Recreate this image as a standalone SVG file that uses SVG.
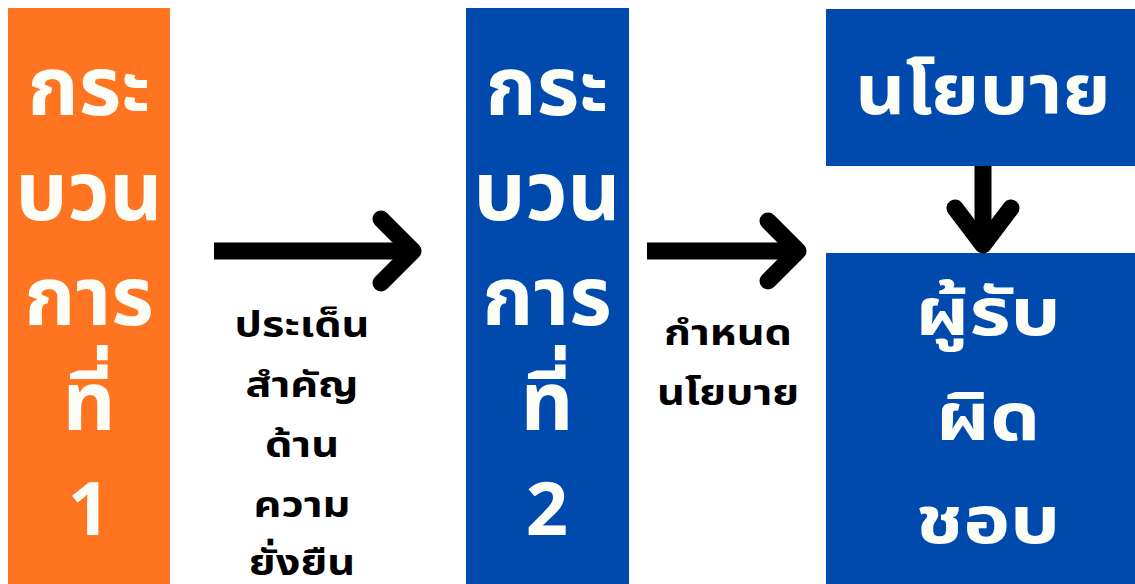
<svg xmlns="http://www.w3.org/2000/svg" width="1135" height="584" viewBox="0 0 1135 584">
<style>
.big{font-family:"Noto Sans","Noto Sans Thai","Liberation Sans",sans-serif;font-weight:bold;font-size:66px;fill:#fbfdf6;text-anchor:middle}
.col{font-family:"Noto Sans","Noto Sans Thai","Liberation Sans",sans-serif;font-weight:bold;font-size:82px;fill:#fbfdf6;text-anchor:middle}
.num{font-size:74px}
.lbl{font-family:"Noto Sans","Noto Sans Thai","Liberation Sans",sans-serif;font-weight:bold;font-size:36px;fill:#000;text-anchor:middle}
.arr{fill:none;stroke:#000;stroke-width:17;stroke-linecap:round;stroke-linejoin:round}
.shaft{fill:none;stroke:#000;stroke-width:17;stroke-linecap:butt}
</style>
<rect width="1135" height="584" fill="#fff"/>
<g id="node-p1">
<rect x="8" y="8" width="162" height="576" fill="#ff7420"/>
<text class="col" x="89" y="115">กระ</text>
<text class="col" x="89" y="220">บวน</text>
<text class="col" x="89" y="325">การ</text>
<text class="col" x="89" y="430">ที่</text>
<text class="col num" x="89" y="535">1</text>
</g>
<g id="node-p2">
<rect x="466" y="8" width="163" height="576" fill="#004aad"/>
<text class="col" x="547" y="115">กระ</text>
<text class="col" x="547" y="220">บวน</text>
<text class="col" x="547" y="325">การ</text>
<text class="col" x="547" y="430">ที่</text>
<text class="col num" x="547" y="535">2</text>
</g>
<g id="node-policy">
<rect x="826" y="9" width="309" height="157" fill="#004aad"/>
<text class="big" transform="translate(983 114) scale(1.11 1)" style="font-size:70px">นโยบาย</text>
</g>
<g id="node-owner">
<rect x="826" y="253" width="309" height="331" fill="#004aad"/>
<text class="big" transform="translate(988 335) scale(1.2 1)">ผู้รับ</text>
<text class="big" transform="translate(988 440) scale(1.2 1)">ผิด</text>
<text class="big" transform="translate(988 543) scale(1.2 1)">ชอบ</text>
</g>
<g id="connectors">
<path class="shaft" d="M214 251H410"/>
<path class="arr" d="M381 219L413 251L381 283"/>
<path class="shaft" d="M647 251H795"/>
<path class="arr" d="M768 221L798 251L768 281"/>
<path class="shaft" d="M983 166V240"/>
<path class="arr" d="M955 208L983 245L1011 208"/>
<text class="lbl" transform="translate(302 337) scale(1.2 1)">ประเด็น</text>
<text class="lbl" transform="translate(302 397) scale(1.2 1)">สำคัญ</text>
<text class="lbl" transform="translate(302 457) scale(1.2 1)">ด้าน</text>
<text class="lbl" transform="translate(302 517) scale(1.2 1)">ความ</text>
<text class="lbl" transform="translate(302 575) scale(1.2 1)">ยั่งยืน</text>
<text class="lbl" transform="translate(728 345) scale(1.2 1)">กำหนด</text>
<text class="lbl" transform="translate(728 405) scale(1.2 1)">นโยบาย</text>
</g>
</svg>
